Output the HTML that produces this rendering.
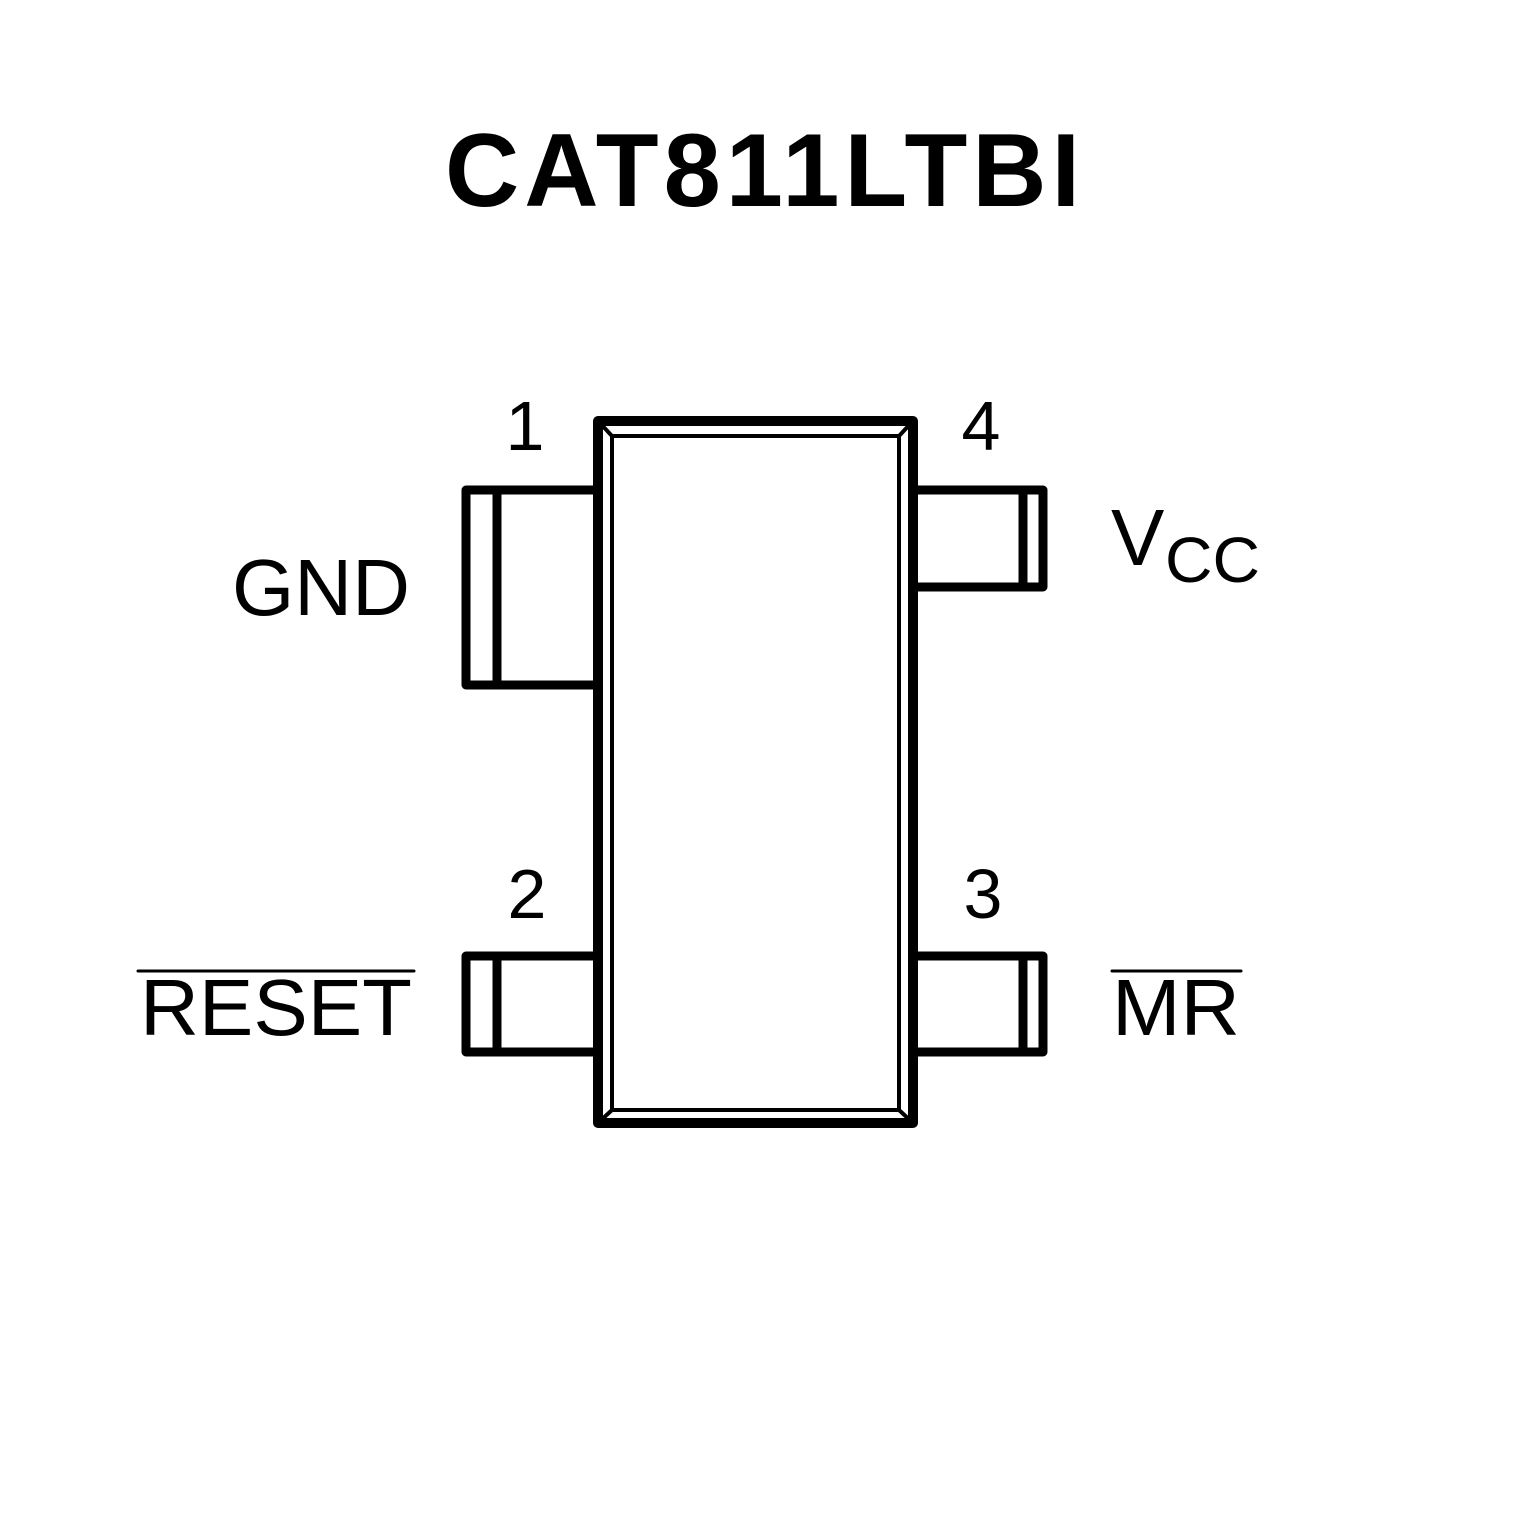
<!DOCTYPE html>
<html><head><style>
body{margin:0;background:#fff;}
svg{display:block}
</style></head><body>
<svg width="1535" height="1535" viewBox="0 0 1535 1535" xmlns="http://www.w3.org/2000/svg">
<rect width="1535" height="1535" fill="#fff"/>
<text x="765" y="206" text-anchor="middle" font-family="Liberation Sans, sans-serif" font-weight="bold" font-size="104" letter-spacing="5" textLength="640" lengthAdjust="spacingAndGlyphs">CAT811LTBI</text>
<g fill="none" stroke="#000" stroke-linejoin="round" stroke-linecap="round">
<rect x="598" y="421" width="315" height="702" stroke-width="10"/>
<rect x="612" y="436" width="287" height="674" stroke-width="4"/>
<line x1="598" y1="421" x2="612" y2="436" stroke-width="4"/>
<line x1="913" y1="421" x2="899" y2="436" stroke-width="4"/>
<line x1="598" y1="1123" x2="612" y2="1110" stroke-width="4"/>
<line x1="913" y1="1123" x2="899" y2="1110" stroke-width="4"/>
<g stroke-width="9">
<polyline points="598,490 466,490 466,685 598,685"/>
<line x1="497" y1="490" x2="497" y2="685"/>
<polyline points="913,490 1043,490 1043,587 913,587"/>
<line x1="1023" y1="490" x2="1023" y2="587"/>
<polyline points="598,956 466,956 466,1052 598,1052"/>
<line x1="497" y1="956" x2="497" y2="1052"/>
<polyline points="913,956 1043,956 1043,1052 913,1052"/>
<line x1="1023" y1="956" x2="1023" y2="1052"/>
</g>
<line x1="138" y1="971" x2="414" y2="971" stroke-width="3"/>
<line x1="1112" y1="971" x2="1241" y2="971" stroke-width="3"/>
</g>
<g font-family="Liberation Sans, sans-serif" font-size="70" fill="#000">
<text x="525" y="450" text-anchor="middle">1</text>
<text x="981" y="450" text-anchor="middle">4</text>
<text x="527" y="918" text-anchor="middle">2</text>
<text x="983" y="918" text-anchor="middle">3</text>
</g>
<g font-family="Liberation Sans, sans-serif" font-size="80" fill="#000">
<text x="410" y="615" text-anchor="end" textLength="178" lengthAdjust="spacingAndGlyphs">GND</text>
<text x="1111" y="565">V</text>
<text x="1165" y="582" font-size="64" textLength="95" lengthAdjust="spacingAndGlyphs">CC</text>
<text x="412" y="1035" text-anchor="end" textLength="272" lengthAdjust="spacingAndGlyphs">RESET</text>
<text x="1112" y="1035" textLength="128" lengthAdjust="spacingAndGlyphs">MR</text>
</g>
</svg>
</body></html>
